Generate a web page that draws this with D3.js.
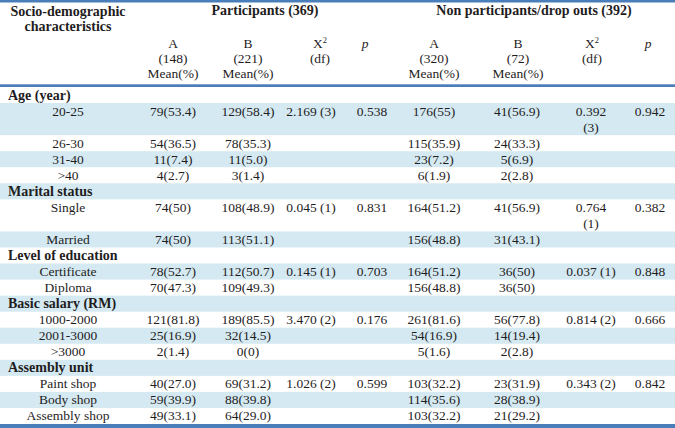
<!DOCTYPE html>
<html><head><meta charset="utf-8">
<script src="https://cdn.jsdelivr.net/npm/d3@7"></script>
<style>
html,body{margin:0;padding:0;background:#fff;}
svg{display:block;font-family:"Liberation Serif","Times New Roman",serif;}
</style></head>
<body><div id="chart"></div>
<script>
// ---------- data ----------
const groups = ["Age (year)", "Marital status", "Level of education", "Basic salary (RM)", "Assembly unit"];
const rowLabels = ["20-25","26-30","31-40",">40","Single","Married","Certificate","Diploma","1000-2000","2001-3000",">3000","Paint shop","Body shop","Assembly shop"];
const rowGroup = [0,0,0,0,1,1,2,2,3,3,3,4,4,4];
const partA = ["79(53.4)","54(36.5)","11(7.4)","4(2.7)","74(50)","74(50)","78(52.7)","70(47.3)","121(81.8)","25(16.9)","2(1.4)","40(27.0)","59(39.9)","49(33.1)"];
const partB = ["129(58.4)","78(35.3)","11(5.0)","3(1.4)","108(48.9)","113(51.1)","112(50.7)","109(49.3)","189(85.5)","32(14.5)","0(0)","69(31.2)","88(39.8)","64(29.0)"];
const partChi = ["2.169 (3)","","","","0.045 (1)","","0.145 (1)","","3.470 (2)","","","1.026 (2)","",""];
const partP = ["0.538","","","","0.831","","0.703","","0.176","","","0.599","",""];
const nonA = ["176(55)","115(35.9)","23(7.2)","6(1.9)","164(51.2)","156(48.8)","164(51.2)","156(48.8)","261(81.6)","54(16.9)","5(1.6)","103(32.2)","114(35.6)","103(32.2)"];
const nonB = ["41(56.9)","24(33.3)","5(6.9)","2(2.8)","41(56.9)","31(43.1)","36(50)","36(50)","56(77.8)","14(19.4)","2(2.8)","23(31.9)","28(38.9)","21(29.2)"];
const nonChi = ["0.392\n(3)","","","","0.764\n(1)","","0.037 (1)","","0.814 (2)","","","0.343 (2)","",""];
const nonP = ["0.942","","","","0.382","","0.848","","0.666","","","0.842","",""];
const spanHeaders = ["Participants (369)", "Non participants/drop outs (392)"];
const colHeadA = ["A","B","X2","p","A","B","X2","p"];
const colHeadN = ["(148)","(221)","(df)","","(320)","(72)","(df)",""];
const colHeadM = ["Mean(%)","Mean(%)","","","Mean(%)","Mean(%)","",""];
const firstHeader = ["Socio-demographic","characteristics"];

// ---------- layout ----------
const W = 675, H = 428;
const ink = "#1f1d1e", band = "#d4e9f1", rule = "#4a7ebb";
const svg = d3.select("#chart").append("svg").attr("width", W).attr("height", H);

const colIds = ["pA","pB","pChi","pP","nA","nB","nChi","nP"];
const colX = d3.scaleOrdinal().domain(colIds).range([173,248,311,372,434,517,591,650]);
const headX = d3.scaleOrdinal().domain(colIds).range([173,248,320,365,434,518,592,648]);
const colData = {pA:partA,pB:partB,pChi:partChi,pP:partP,nA:nonA,nB:nonB,nChi:nonChi,nP:nonP};

// build row list
const rows = [];
groups.forEach((g, gi) => {
  rows.push({type:"group", label:g});
  rowLabels.forEach((l, i) => {
    if (rowGroup[i] === gi) {
      const lines = Math.max(...colIds.map(c => colData[c][i].split("\n").length));
      rows.push({type:"item", label:l, idx:i, units: lines});
    }
  });
});
let acc = 0;
rows.forEach(r => { r.units = r.units || 1; r.u0 = acc; acc += r.units; });
const y = d3.scaleLinear().domain([0, acc]).range([87, 424]);

// bands
rows.forEach((r, k) => {
  if (k % 2 === 1) {
    svg.append("rect").attr("x",0).attr("width",W)
      .attr("y", y(r.u0)).attr("height", y(r.u0 + r.units) - y(r.u0)).attr("fill", band);
  }
});

// rules
svg.append("rect").attr("x",0).attr("y",0).attr("width",W).attr("height",2.5).attr("fill",rule);
svg.append("rect").attr("x",0).attr("y",84.3).attr("width",W).attr("height",2.7).attr("fill",rule);
svg.append("rect").attr("x",0).attr("y",424).attr("width",W).attr("height",4).attr("fill",rule);

const fs = 13.5;
// header
svg.selectAll("text.fh").data(firstHeader).enter().append("text")
  .attr("x",68).attr("y",(d,i)=>16+i*15).attr("text-anchor","middle")
  .attr("font-weight","bold").attr("font-size",14).attr("fill",ink).text(d=>d);
svg.selectAll("text.sh").data(spanHeaders).enter().append("text")
  .attr("x",(d,i)=>[265,534][i]).attr("y",15).attr("text-anchor","middle")
  .attr("font-weight","bold").attr("font-size",14).attr("fill",ink).text(d=>d);

colIds.forEach((c, ci) => {
  const h = colHeadA[ci];
  const t = svg.append("text").attr("x", headX(c)).attr("y", 48).attr("text-anchor","middle")
    .attr("font-size", fs).attr("fill", ink);
  if (h === "X2") {
    t.append("tspan").text("X");
    t.append("tspan").attr("font-size", 8.5).attr("dy", -5).text("2");
  } else if (h === "p") {
    t.attr("font-style","italic").text(h);
  } else t.text(h);
  if (colHeadN[ci]) svg.append("text").attr("x", headX(c)).attr("y", 63).attr("text-anchor","middle")
    .attr("font-size", fs).attr("fill", ink).text(colHeadN[ci]);
  if (colHeadM[ci]) svg.append("text").attr("x", headX(c)).attr("y", 78).attr("text-anchor","middle")
    .attr("font-size", fs).attr("fill", ink).text(colHeadM[ci]);
});

// body
rows.forEach(r => {
  const base = y(r.u0) + 12.5;
  if (r.type === "group") {
    svg.append("text").attr("x", 8).attr("y", base).attr("font-weight","bold")
      .attr("font-size", 14).attr("fill", ink).text(r.label);
  } else {
    svg.append("text").attr("x", 68).attr("y", base).attr("text-anchor","middle")
      .attr("font-size", fs).attr("fill", ink).text(r.label);
    colIds.forEach(c => {
      const v = colData[c][r.idx];
      if (!v) return;
      const t = svg.append("text").attr("x", colX(c)).attr("y", base).attr("text-anchor","middle")
        .attr("font-size", fs).attr("fill", ink);
      v.split("\n").forEach((line, li) => {
        t.append("tspan").attr("x", colX(c)).attr("y", base + li*16).text(line);
      });
    });
  }
});
</script></body></html>
